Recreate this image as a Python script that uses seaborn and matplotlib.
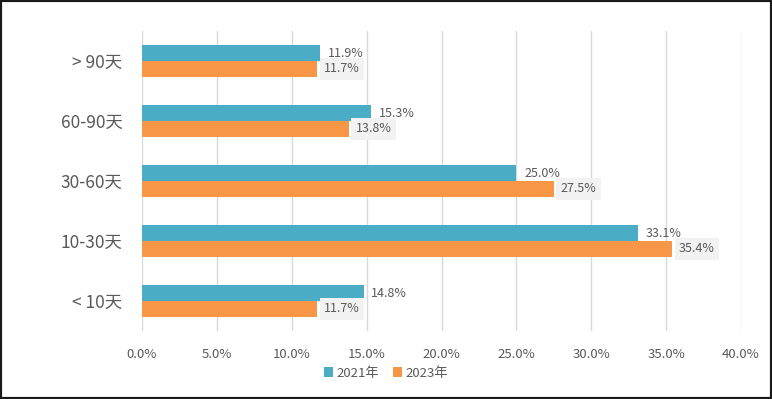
import matplotlib
matplotlib.use("Agg")
import matplotlib.pyplot as plt
import seaborn as sns
import pandas as pd
from matplotlib.patches import Rectangle
from matplotlib.ticker import PercentFormatter

# data (top to bottom)
categories = ["> 90天", "60-90天", "30-60天", "10-30天", "< 10天"]
years = ["2021年", "2023年"]
share_2021 = [11.9, 15.3, 25.0, 33.1, 14.8]
share_2023 = [11.7, 13.8, 27.5, 35.4, 11.7]
x_ticks = [0, 5, 10, 15, 20, 25, 30, 35, 40]

colors = ["#4BACC6", "#F79646"]
text_color = "#595959"

df = pd.DataFrame({
    "category": categories * 2,
    "year": [years[0]] * len(categories) + [years[1]] * len(categories),
    "share": share_2021 + share_2023,
})

sns.set_style("white")
plt.rcParams["font.family"] = ["Noto Sans CJK SC", "DejaVu Sans"]

fig = plt.figure(figsize=(7.72, 3.99), dpi=100)
ax = fig.add_axes([142 / 772, 1 - 331 / 399, (741 - 142) / 772, 300 / 399])

sns.barplot(
    data=df, y="category", x="share", hue="year",
    order=categories, hue_order=years, palette=colors,
    width=0.52, orient="h", ax=ax, legend=True, saturation=1,
    linewidth=0,
)

# value labels: 2021 plain, 2023 on a light grey box
ax.bar_label(ax.containers[0], fmt="%.1f%%", padding=5.5,
             fontsize=9, color=text_color)
ax.bar_label(ax.containers[1], fmt="%.1f%%", padding=5,
             fontsize=9, color=text_color,
             bbox=dict(boxstyle="square,pad=0.35", fc="#F2F2F2", ec="none"))

ax.set_xlim(0, 40)
ax.set_ylim(4.5, -0.5)
ax.set_xticks(x_ticks)
ax.xaxis.set_major_formatter(PercentFormatter(decimals=1))
ax.grid(axis="x", color="#D9D9D9", linewidth=1)
ax.set_axisbelow(True)
for s in ax.spines.values():
    s.set_visible(False)
ax.tick_params(axis="y", length=0, labelsize=12.5, labelcolor=text_color, pad=14)
ax.tick_params(axis="x", length=0, labelsize=9.5, labelcolor=text_color, pad=12)
ax.set_xlabel("")
ax.set_ylabel("")

handles, labels = ax.get_legend_handles_labels()
ax.get_legend().remove()
fig.legend(handles, labels, loc="center", bbox_to_anchor=(0.5, 1 - 373 / 399),
           ncol=2, frameon=False, fontsize=9.5, handlelength=0.7,
           handleheight=0.7, handletextpad=0.3, columnspacing=1.0,
           labelcolor=text_color)

# black frame around the picture
fig.add_artist(Rectangle((0, 0), 1, 1, transform=fig.transFigure,
                         fill=False, edgecolor="#1a1a1a", linewidth=3))

fig.savefig("out.png", dpi=100)
